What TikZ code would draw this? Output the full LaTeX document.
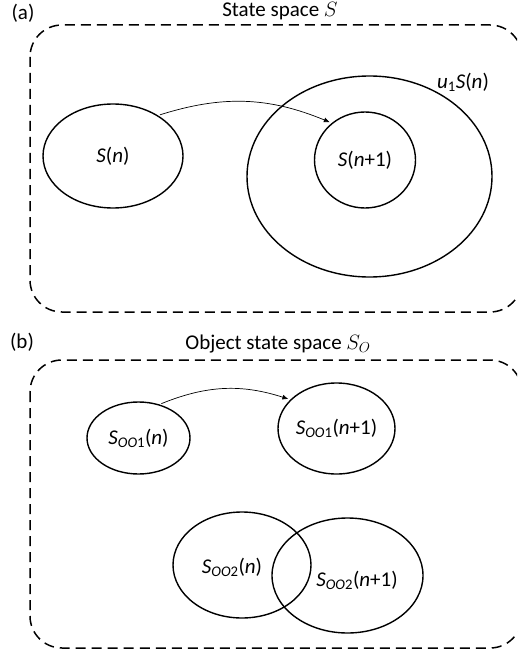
\documentclass[tikz,border=0pt]{standalone}
\usepackage{fontspec}
\setmainfont{Carlito}
\usepackage{tikz}
\usetikzlibrary{arrows.meta,positioning,shapes.geometric}

\tikzset{
  region/.style={draw, line width=1.5pt, dash pattern=on 10pt off 6pt, rounded corners=32pt},
  set/.style={ellipse, draw, line width=1.4pt, inner sep=0pt},
  move/.style={-{Latex[length=6pt,width=5pt]}, line width=0.7pt, bend left=20, shorten <=2pt, shorten >=2pt},
}

\begin{document}
\begin{tikzpicture}[x=1pt, y=-1pt, font=\fontsize{21}{25}\selectfont]
	\useasboundingbox (0,0) rectangle (517,655);
	\clip (0,0) rectangle (517,655);

	% (a) state space
	\node (lbla) at (23, 13) {(a)};
	\node (ttla) at (280, 11) {State space $S$};
	\draw[region] (30, 25) rectangle (522, 312);

	\node[set, minimum width=140pt, minimum height=104pt] (sn) at (113, 156) {\textit{S}(\textit{n})};
	\node[set, minimum width=245pt, minimum height=201pt] (usn) at (369.5, 176.5) {};
	\node[set, minimum width=101pt, minimum height=96pt] (snext) at (365, 160) {\textit{S}(\textit{n}+1)};
	\node (lblusn) at (463, 82) {\textit{u}\textsubscript{1}\textit{S}(\textit{n})};

	\draw[move] (sn.42) to (snext.132);

	% (b) object state space
	\node (lblb) at (22, 342) {(b)};
	\node (ttlb) at (278, 344) {Object state space $S_O$};
	\draw[region] (30, 360) rectangle (522, 648);

	\node[set, minimum width=103pt, minimum height=72pt] (soa) at (138.5, 438) {\textit{S}\textsubscript{\textit{OO}1}(\textit{n})};
	\node[set, minimum width=117pt, minimum height=91pt] (soanext) at (336.5, 428.5) {\textit{S}\textsubscript{\textit{OO}1}(\textit{n}+1)};
	\node[set, minimum width=138pt, minimum height=106pt] (sob) at (242, 565) {};
	\node[set, minimum width=151pt, minimum height=115pt] (sobnext) at (347.5, 575.5) {};
	\node (lblsob) at (232, 567) {\textit{S}\textsubscript{\textit{OO}2}(\textit{n})};
	\node (lblsobnext) at (357, 580) {\textit{S}\textsubscript{\textit{OO}2}(\textit{n}+1)};

	\draw[move] (soa.58) to (soanext.148);

\end{tikzpicture}
\end{document}
